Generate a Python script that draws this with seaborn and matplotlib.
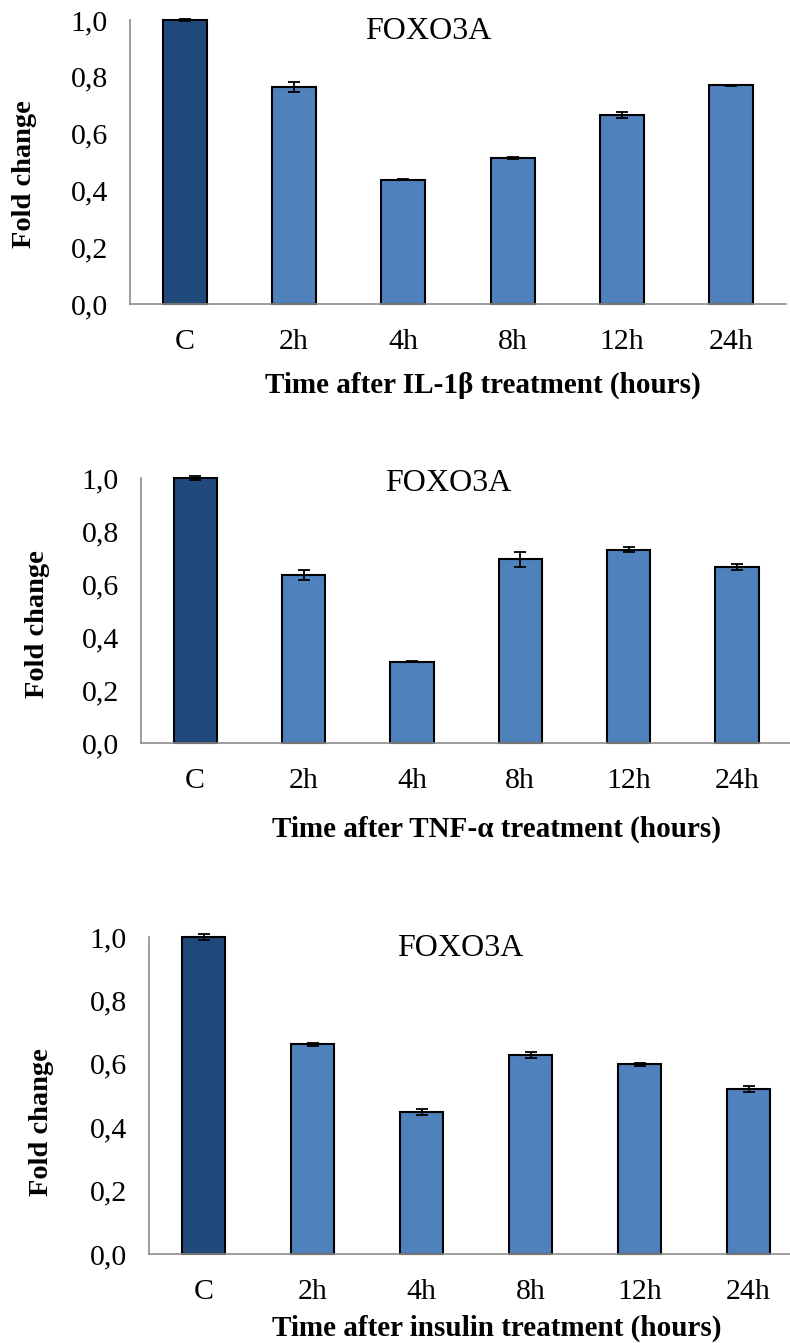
import matplotlib
matplotlib.use("Agg")
import matplotlib.pyplot as plt
import seaborn as sns
import numpy as np
import pandas as pd

# ---------------- data ----------------
categories = ["C", "2h", "4h", "8h", "12h", "24h"]

il1b_values = [1.000, 0.765, 0.437, 0.513, 0.665, 0.770]
il1b_errors = [0.005, 0.018, 0.002, 0.004, 0.010, 0.002]

tnf_values = [1.000, 0.634, 0.307, 0.693, 0.730, 0.664]
tnf_errors = [0.008, 0.020, 0.002, 0.028, 0.009, 0.011]

ins_values = [1.000, 0.661, 0.448, 0.627, 0.598, 0.520]
ins_errors = [0.008, 0.004, 0.008, 0.010, 0.005, 0.009]

xlabels = [
    "Time after IL-1\u03b2 treatment (hours)",
    "Time after TNF-\u03b1 treatment (hours)",
    "Time after insulin treatment (hours)",
]
panel_title = "FOXO3A"
ylabel = "Fold change"
ytick_values = [0.0, 0.2, 0.4, 0.6, 0.8, 1.0]
ytick_labels = ["0,0", "0,2", "0,4", "0,6", "0,8", "1,0"]

bar_colors = ["#214A7C", "#4F81BD", "#4F81BD", "#4F81BD", "#4F81BD", "#4F81BD"]

# ---------------- style ----------------
sns.set_theme(style="white")
plt.rcParams["font.family"] = ["Liberation Serif", "DejaVu Serif"]
plt.rcParams["text.color"] = "black"
plt.rcParams["axes.labelcolor"] = "black"
plt.rcParams["xtick.color"] = "black"
plt.rcParams["ytick.color"] = "black"

W, H = 790, 1343
DPI = 100
fig = plt.figure(figsize=(W / DPI, H / DPI), dpi=DPI)

# panel layout in pixels: left, right, top(y=1), bottom(y=0), ylabel center, title baseline, xlabel baseline
layouts = [
    dict(l=130, r=786, t=20, b=304, ylx=25, yly=174, tx=428, ty=39, xlx=483, xly=393),
    dict(l=141, r=791, t=478, b=743, ylx=38, yly=624, tx=448, ty=491, xlx=496, xly=837),
    dict(l=149, r=803, t=937, b=1254, ylx=42, yly=1122, tx=460, ty=956, xlx=497, xly=1336),
]
series = [(il1b_values, il1b_errors), (tnf_values, tnf_errors), (ins_values, ins_errors)]

GRAY = "#8c8c8c"

for lay, (vals, errs), xl in zip(layouts, series, xlabels):
    ax = fig.add_axes([
        lay["l"] / W,
        1 - lay["b"] / H,
        (lay["r"] - lay["l"]) / W,
        (lay["b"] - lay["t"]) / H,
    ])
    df = pd.DataFrame({"time": categories, "fold": vals})
    sns.barplot(
        data=df, x="time", y="fold", hue="time", palette=bar_colors,
        order=categories, hue_order=categories, legend=False, saturation=1,
        width=0.4, edgecolor="black", linewidth=1.5, errorbar=None, ax=ax,
    )
    for p in ax.patches:
        p.set_clip_on(False)
    for p, e in zip(ax.patches, errs):
        xc = p.get_x() + p.get_width() / 2
        ax.errorbar(xc, p.get_height(), yerr=e, fmt="none", ecolor="black",
                    elinewidth=1.3, capsize=4.5, capthick=1.3, clip_on=False, zorder=5)

    ax.set_xlim(-0.5, len(categories) - 0.5)
    ax.set_ylim(0, 1.0)
    ax.set_yticks(ytick_values)
    ax.set_yticklabels(ytick_labels)
    ax.set_xticks(range(len(categories)))
    ax.set_xticklabels(categories)
    ax.set_xticks(np.arange(-0.5, len(categories), 1.0), minor=True)
    ax.tick_params(axis="x", which="major", length=0, pad=18, labelsize=21.5, labelcolor="black")
    ax.tick_params(axis="x", which="minor", length=6, width=1.2, color=GRAY, direction="out")
    ax.tick_params(axis="y", which="major", length=6, width=1.2, color=GRAY,
                   direction="out", pad=10, labelsize=21.5, labelcolor="black")
    for s in ["top", "right"]:
        ax.spines[s].set_visible(False)
    for s in ["left", "bottom"]:
        ax.spines[s].set_color(GRAY)
        ax.spines[s].set_linewidth(1.2)
    ax.set_xlabel("")
    ax.set_ylabel("")
    ax.set_facecolor("white")

    fig.text(lay["tx"] / W, 1 - lay["ty"] / H, panel_title, ha="center", va="baseline",
             fontsize=23, color="black")
    fig.text(lay["xlx"] / W, 1 - lay["xly"] / H, xl, ha="center", va="baseline",
             fontsize=21, fontweight="bold", color="black")
    fig.text(lay["ylx"] / W, 1 - lay["yly"] / H, ylabel, ha="center", va="center",
             rotation=90, fontsize=20.5, fontweight="bold", color="black")

fig.savefig("out.png", dpi=DPI, facecolor="white")
